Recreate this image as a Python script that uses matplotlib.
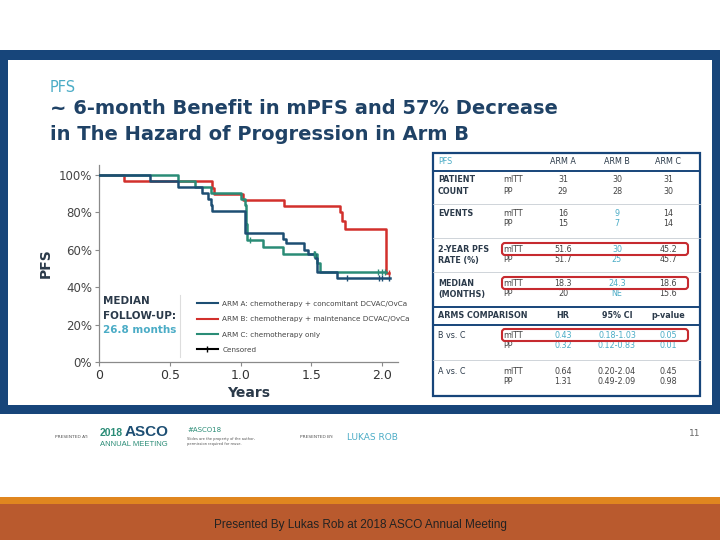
import matplotlib
matplotlib.use("Agg")
import matplotlib.pyplot as plt
from matplotlib.patches import Rectangle, FancyBboxPatch
from matplotlib.lines import Line2D

# ---------------- data ----------------
arm_a_t = [0, 0.36, 0.56, 0.73, 0.77, 0.79, 0.80, 1.03, 1.035, 1.30, 1.32, 1.45, 1.48, 1.53, 1.54, 1.68, 2.06]
arm_a_s = [100, 96.8, 93.5, 90.3, 87.1, 83.9, 80.6, 74.2, 69.0, 66.0, 63.8, 60.0, 57.6, 55.5, 48.3, 44.8, 44.8]
arm_a_cens_t = [1.52, 1.75, 1.98, 2.00, 2.05]
arm_a_cens_s = [57.6, 44.8, 44.8, 44.8, 44.8]

arm_b_t = [0, 0.18, 0.80, 0.81, 1.02, 1.31, 1.70, 1.72, 1.74, 2.03, 2.05]
arm_b_s = [100, 96.7, 93.3, 90.0, 86.7, 83.3, 80.0, 75.6, 71.1, 47.4, 47.4]
arm_b_cens_t = [2.05]
arm_b_cens_s = [47.4]

arm_c_t = [0, 0.56, 0.68, 0.79, 1.00, 1.03, 1.04, 1.045, 1.16, 1.30, 1.54, 1.56, 2.03]
arm_c_s = [100, 96.8, 93.5, 90.3, 87.1, 83.9, 74.0, 65.2, 61.7, 57.8, 53.0, 48.3, 48.3]
arm_c_cens_t = [1.07, 1.52, 1.53, 1.97, 2.00, 2.02]
arm_c_cens_s = [65.2, 57.8, 57.8, 48.3, 48.3, 48.3]

x_ticks = [0, 0.5, 1.0, 1.5, 2.0]
x_tick_labels = ["0", "0.5", "1.0", "1.5", "2.0"]
y_ticks = [0, 20, 40, 60, 80, 100]
y_tick_labels = ["0%", "20%", "40%", "60%", "80%", "100%"]
legend_labels = ["ARM A: chemotherapy + concomitant DCVAC/OvCa",
                 "ARM B: chemotherapy + maintenance DCVAC/OvCa",
                 "ARM C: chemotherapy only",
                 "Censored"]

arm_cols = ["ARM A", "ARM B", "ARM C"]
row_labels = [["PATIENT", "COUNT"], ["EVENTS", ""], ["2-YEAR PFS", "RATE (%)"], ["MEDIAN", "(MONTHS)"]]
patient_mitt = ["31", "30", "31"]
patient_pp = ["29", "28", "30"]
events_mitt = ["16", "9", "14"]
events_pp = ["15", "7", "14"]
rate_mitt = ["51.6", "30", "45.2"]
rate_pp = ["51.7", "25", "45.7"]
median_mitt = ["18.3", "24.3", "18.6"]
median_pp = ["20", "NE", "15.6"]
comp_cols = ["HR", "95% CI", "p-value"]
comp_labels = ["B vs. C", "A vs. C"]
bvc_mitt = ["0.43", "0.18-1.03", "0.05"]
bvc_pp = ["0.32", "0.12-0.83", "0.01"]
avc_mitt = ["0.64", "0.20-2.04", "0.45"]
avc_pp = ["1.31", "0.49-2.09", "0.98"]

# ---------------- styles ----------------
NAVY = "#1D4E73"
RED = "#D2302C"
TEAL = "#2A8C76"
FRAME = "#17457A"
LBLUE = "#4BACC6"
TXT = "#2B3A4A"

plt.rcParams['font.family'] = ['DejaVu Sans']

fig = plt.figure(figsize=(7.2, 5.4), dpi=100)
bg = fig.add_axes([0, 0, 1, 1])
bg.set_xlim(0, 720)
bg.set_ylim(540, 0)
bg.axis('off')

# slide frame
bg.add_patch(Rectangle((0, 50), 720, 364, facecolor=FRAME, edgecolor='none'))
bg.add_patch(Rectangle((8, 60), 704, 345, facecolor='white', edgecolor='none'))
# bottom bands
bg.add_patch(Rectangle((0, 497), 720, 7, facecolor="#E0861F", edgecolor='none'))
bg.add_patch(Rectangle((0, 504), 720, 36, facecolor="#B95A2E", edgecolor='none'))
bg.text(360, 525, "Presented By Lukas Rob at 2018 ASCO Annual Meeting", ha='center', va='center',
        fontsize=8.5, color='#222222', family='Liberation Sans')

# titles
bg.text(50, 87, "PFS", fontsize=10.5, color=LBLUE, ha='left', va='center')
bg.text(50, 109, "~ 6-month Benefit in mPFS and 57% Decrease", fontsize=14, fontweight='bold',
        color="#1F4266", ha='left', va='center')
bg.text(50, 134, "in The Hazard of Progression in Arm B", fontsize=14, fontweight='bold',
        color="#1F4266", ha='left', va='center')

# footer
bg.text(55, 437, "PRESENTED AT:", fontsize=3.2, color='#555555', ha='left', va='center')
bg.text(100, 433, "2018", fontsize=7.5, color=TEAL, fontweight='bold', ha='left', va='center', family='Liberation Sans')
bg.text(125, 432, "ASCO", fontsize=11, color=NAVY, fontweight='bold', ha='left', va='center', family='Liberation Sans')
bg.text(100, 444, "ANNUAL MEETING", fontsize=5.5, color=TEAL, ha='left', va='center', family='Liberation Sans')
bg.text(187, 430, "#ASCO18", fontsize=5, color=TEAL, ha='left', va='center')
bg.text(187, 439, "Slides are the property of the author,", fontsize=2.6, color='#555555', ha='left', va='center')
bg.text(187, 444, "permission required for reuse.", fontsize=2.6, color='#555555', ha='left', va='center')
bg.text(300, 437, "PRESENTED BY:", fontsize=3.2, color='#555555', ha='left', va='center')
bg.text(347, 437, "LUKAS ROB", fontsize=6.5, color=LBLUE, ha='left', va='center')
bg.text(700, 434, "11", fontsize=6.5, color='#666666', ha='right', va='center')

# ---------------- KM chart ----------------
x0px, x2px, rpx = 99, 382, 398
y0px, y100px, ytop = 362, 175, 165
ppy = (x2px - x0px) / 2.0
ppp = (y0px - y100px) / 100.0
ax = fig.add_axes([x0px / 720, 1 - y0px / 540, (rpx - x0px) / 720, (y0px - ytop) / 540])
ax.set_xlim(0, (rpx - x0px) / ppy)
ax.set_ylim(0, (y0px - ytop) / ppp)
ax.patch.set_alpha(0)

lw = 1.8
la, = ax.step(arm_a_t, arm_a_s, where='post', color=NAVY, lw=lw, zorder=4)
lb, = ax.step(arm_b_t, arm_b_s, where='post', color=RED, lw=lw, zorder=3)
lc, = ax.step(arm_c_t, arm_c_s, where='post', color=TEAL, lw=lw, zorder=3)
ax.plot(arm_a_cens_t, arm_a_cens_s, ls='none', marker='|', ms=5, mew=1, color=NAVY, zorder=5)
ax.plot(arm_b_cens_t, arm_b_cens_s, ls='none', marker='|', ms=5, mew=1, color=RED, zorder=5)
ax.plot(arm_c_cens_t, arm_c_cens_s, ls='none', marker='|', ms=5, mew=1, color=TEAL, zorder=5)

for s in ['top', 'right']:
    ax.spines[s].set_visible(False)
for s in ['left', 'bottom']:
    ax.spines[s].set_color('#8A8A8A')
    ax.spines[s].set_linewidth(0.9)
ax.set_xticks(x_ticks)
ax.set_xticklabels(x_tick_labels, fontsize=9, color='#333333')
ax.set_yticks(y_ticks)
ax.set_yticklabels(y_tick_labels, fontsize=8.5, color='#444444')
ax.tick_params(axis='both', length=3, color='#8A8A8A', pad=2)
ax.set_xlabel("Years", fontsize=10, fontweight='bold', color=TXT, labelpad=3)
ax.set_ylabel("PFS", fontsize=10, fontweight='bold', color=TXT, labelpad=4)

handles = [Line2D([], [], color=NAVY, lw=1.5), Line2D([], [], color=RED, lw=1.5),
           Line2D([], [], color=TEAL, lw=1.5),
           Line2D([], [], color='black', lw=1.5, marker='|', ms=5, mew=1)]
leg = ax.legend(handles, legend_labels, loc='upper left',
                bbox_to_anchor=((194 - x0px) / (rpx - x0px), (y0px - 298) / (y0px - ytop)),
                frameon=False, fontsize=5.2, handlelength=2.9, labelspacing=1.28,
                borderaxespad=0, handletextpad=0.6, labelcolor='#444444')

bg.plot([180, 180], [295, 357], color='#DDDDDD', lw=0.8)
bg.text(103, 301, "MEDIAN", fontsize=7.5, fontweight='bold', color=TXT, ha='left', va='center')
bg.text(103, 316, "FOLLOW-UP:", fontsize=7.5, fontweight='bold', color=TXT, ha='left', va='center')
bg.text(103, 330, "26.8 months", fontsize=7.5, fontweight='bold', color=LBLUE, ha='left', va='center')

# ---------------- table ----------------
tx0, tx1, ty0, ty1 = 433, 700, 153, 396
bg.add_patch(Rectangle((tx0, ty0), tx1 - tx0, ty1 - ty0, facecolor='white', edgecolor=FRAME, lw=1.6, zorder=2))
for yy in [171, 307, 325]:
    bg.plot([tx0, tx1], [yy, yy], color=FRAME, lw=1.4, zorder=3)
for yy in [204, 238, 272, 360]:
    bg.plot([tx0, tx1], [yy, yy], color='#C8CDD3', lw=0.6, zorder=3)

colx = [563, 617, 668]
fs = 5.8
bg.text(438, 162, "PFS", fontsize=fs, color=LBLUE, ha='left', va='center', zorder=4)
for x, c in zip(colx, arm_cols):
    bg.text(x, 162, c, fontsize=fs, color=TXT, ha='center', va='center', zorder=4)

blocks = [(patient_mitt, patient_pp, 180), (events_mitt, events_pp, 213),
          (rate_mitt, rate_pp, 249), (median_mitt, median_pp, 283)]
for (mitt, pp, yy), lab in zip(blocks, row_labels):
    bg.text(438, yy, lab[0], fontsize=fs, fontweight='bold', color=TXT, ha='left', va='center', zorder=4)
    if lab[1]:
        bg.text(438, yy + 11, lab[1], fontsize=fs, fontweight='bold', color=TXT, ha='left', va='center', zorder=4)
    bg.text(503, yy, "mITT", fontsize=fs, color='#444444', ha='left', va='center', zorder=4)
    bg.text(503, yy + 11, "PP", fontsize=fs, color='#444444', ha='left', va='center', zorder=4)
    for i, x in enumerate(colx):
        col = LBLUE if (i == 1 and yy != 180) else '#444444'
        bg.text(x, yy, mitt[i], fontsize=fs, color=col, ha='center', va='center', zorder=4)
        bg.text(x, yy + 11, pp[i], fontsize=fs, color=col, ha='center', va='center', zorder=4)

bg.text(438, 316, "ARMS COMPARISON", fontsize=fs, fontweight='bold', color=TXT, ha='left', va='center', zorder=4)
for x, c in zip(colx, comp_cols):
    bg.text(x, 316, c, fontsize=fs, fontweight='bold', color=TXT, ha='center', va='center', zorder=4)
for (mitt, pp, yy, lab, col) in [(bvc_mitt, bvc_pp, 335, comp_labels[0], LBLUE),
                                 (avc_mitt, avc_pp, 371, comp_labels[1], '#444444')]:
    bg.text(438, yy, lab, fontsize=fs, color=TXT, ha='left', va='center', zorder=4)
    bg.text(503, yy, "mITT", fontsize=fs, color='#444444', ha='left', va='center', zorder=4)
    bg.text(503, yy + 11, "PP", fontsize=fs, color='#444444', ha='left', va='center', zorder=4)
    for i, x in enumerate(colx):
        bg.text(x, yy, mitt[i], fontsize=fs, color=col, ha='center', va='center', zorder=4)
        bg.text(x, yy + 11, pp[i], fontsize=fs, color=col, ha='center', va='center', zorder=4)

for yy in [243, 277, 329]:
    bg.add_patch(FancyBboxPatch((502, yy), 186, 12, boxstyle="round,pad=0,rounding_size=3",
                                facecolor='none', edgecolor='#C62A2F', lw=1.5, zorder=5))

fig.savefig("out.png", dpi=100)
